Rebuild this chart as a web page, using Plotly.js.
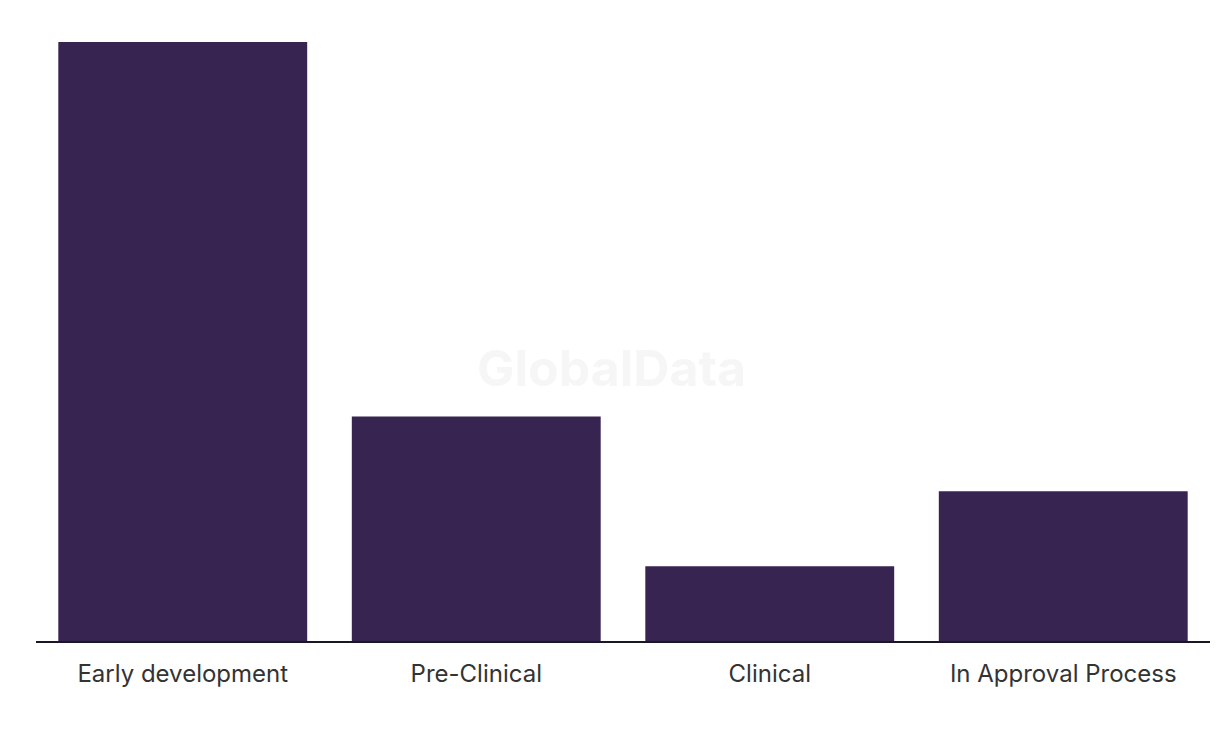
<!DOCTYPE html>
<html>
<head>
<meta charset="utf-8">
<script src="https://cdn.plot.ly/plotly-3.0.1.min.js"></script>
<style>html,body{margin:0;padding:0;background:#fff;}#chart{width:1220px;height:736px;}</style>
</head>
<body>
<div id="chart"></div>
<script>
const categories = ["Early development", "Pre-Clinical", "Clinical", "In Approval Process"];
const values = [8, 3, 1, 2];

const trace = {
  type: "bar",
  x: categories,
  y: values,
  marker: {color: "#372451"},
  width: 0.848,
  hoverinfo: "x+y"
};

const layout = {
  width: 1220,
  height: 736,
  margin: {l: 36, r: 10, t: 42, b: 95},
  paper_bgcolor: "#ffffff",
  plot_bgcolor: "#ffffff",
  showlegend: false,
  font: {family: "Inter, Roboto, sans-serif", color: "#333333"},
  xaxis: {
    showline: true,
    linecolor: "#1a1628",
    linewidth: 2,
    ticks: "",
    ticklabelstandoff: 10,
    tickfont: {size: 24, color: "#333333", family: "Inter, Roboto, sans-serif"},
    showgrid: false,
    zeroline: false
  },
  yaxis: {
    range: [0, 8],
    visible: false,
    showgrid: false,
    zeroline: false
  },
  annotations: [{
    text: "<b>GlobalData</b>",
    xref: "paper", yref: "paper",
    x: 0.49, y: 0.455,
    showarrow: false,
    font: {size: 50, color: "#f6f6f6", family: "Inter, Roboto, sans-serif"}
  }]
};

Plotly.newPlot("chart", [trace], layout, {displayModeBar: false, staticPlot: true});
</script>
</body>
</html>
